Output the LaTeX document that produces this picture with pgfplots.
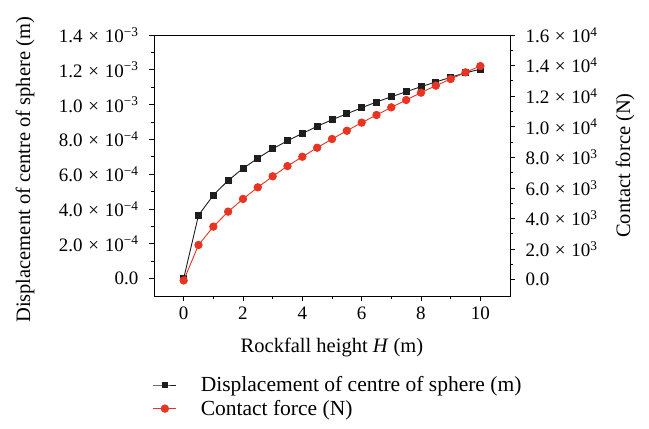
\documentclass[border=0pt]{standalone}
\usepackage{fontspec}
\setmainfont{Liberation Serif}
\usepackage{pgfplots}
\pgfplotsset{compat=1.18}
\definecolor{myred}{RGB}{232,52,34}
\definecolor{myblack}{RGB}{30,30,30}
\pgfplotstableread{
x y
0 0
0.5 3.64e-4
1 4.79e-4
1.5 5.64e-4
2 6.33e-4
2.5 6.92e-4
3 7.46e-4
3.5 7.92e-4
4 8.34e-4
4.5 8.75e-4
5 9.13e-4
5.5 9.47e-4
6 9.82e-4
6.5 1.015e-3
7 1.045e-3
7.5 1.074e-3
8 1.103e-3
8.5 1.130e-3
9 1.157e-3
9.5 1.183e-3
10 1.203e-3
}\disp
\pgfplotstableread{
x y
0 -50
0.5 2270
1 3470
1.5 4450
2 5280
2.5 6040
3 6760
3.5 7430
4 8040
4.5 8630
5 9200
5.5 9740
6 10270
6.5 10770
7 11270
7.5 11750
8 12230
8.5 12690
9 13120
9.5 13560
10 13970
}\force
\newcommand{\tm}{\hspace{0.3em}×\hspace{0.3em}}
\pgfplotsset{
  common/.style={
    at={(0pt,0pt)}, anchor=south west,
    width=356pt, height=261pt, scale only axis,
    xmin=-1, xmax=11,
    tick align=outside,
    major tick length=5pt, minor tick length=3pt,
    tick style={line width=0.8pt, black},
    tick label style={font=\fontsize{19}{22}\selectfont},
    label style={font=\fontsize{20.5}{24}\selectfont},
    axis line style={line width=0.8pt},
    scaled y ticks=false,
    /pgf/number format/assume math mode=true,
    legend image code/.code={\draw[mark repeat=2,mark phase=2] plot coordinates {(0pt,0pt) (11.5pt,0pt) (23pt,0pt)};},
  }
}
\begin{document}
\begin{tikzpicture}
\begin{axis}[common,
  ymin=-1e-4, ymax=1.4e-3,
  xtick={0,2,4,6,8,10}, minor xtick={1,3,5,7,9},
  xtick pos=lower, ytick pos=left,
  ytick={0,2e-4,4e-4,6e-4,8e-4,1e-3,1.2e-3,1.4e-3},
  minor ytick={1e-4,3e-4,5e-4,7e-4,9e-4,1.1e-3,1.3e-3},
  yticklabels={0.0, 2.0\tm10\textsuperscript{−4}, 4.0\tm10\textsuperscript{−4}, 6.0\tm10\textsuperscript{−4}, 8.0\tm10\textsuperscript{−4}, 1.0\tm10\textsuperscript{−3}, 1.2\tm10\textsuperscript{−3}, 1.4\tm10\textsuperscript{−3}},
  yticklabel style={xshift=-7pt},
  xticklabel style={yshift=-2pt},
  xlabel={Rockfall height \textit{H} (m)},
  ylabel={Displacement of centre of sphere (m)},
  xlabel style={at={(axis description cs:0.5,-0.199)}, anchor=center},
  ylabel style={at={(axis description cs:-0.362,0.483)}, anchor=center},
]
\addplot[myblack, line width=0.9pt, mark=square*, mark size=3pt, mark options={solid}] table[x=x,y=y] {\disp};
\end{axis}
\begin{axis}[common,
  ymin=-1066, ymax=16000,
  axis x line=none,
  axis y line*=right,
  ytick={0,2000,4000,6000,8000,10000,12000,14000,16000},
  minor ytick={1000,3000,5000,7000,9000,11000,13000,15000},
  yticklabels={0.0, 2.0\tm10\textsuperscript{3}, 4.0\tm10\textsuperscript{3}, 6.0\tm10\textsuperscript{3}, 8.0\tm10\textsuperscript{3}, 1.0\tm10\textsuperscript{4}, 1.2\tm10\textsuperscript{4}, 1.4\tm10\textsuperscript{4}, 1.6\tm10\textsuperscript{4}},
  yticklabel style={xshift=7pt},
  ylabel={Contact force (N)},
  ylabel style={at={(axis description cs:1.323,0.50)}, anchor=center},
  legend style={draw=none, fill=none, at={(axis description cs:-0.012,-0.293)}, anchor=north west, font=\fontsize{21.5}{24}\selectfont, row sep=3pt},
  legend cell align=left,
]
\addlegendimage{myblack, line width=0.9pt, mark=square*, mark size=2.5pt}
\addlegendentry{\hspace{22pt}Displacement of centre of sphere (m)}
\addplot[myred, line width=0.9pt, mark=*, mark size=3.7pt] table[x=x,y=y] {\force};
\addlegendentry{\hspace{22pt}Contact force (N)}
\end{axis}
\path[use as bounding box] (-154pt,-133pt) rectangle (495pt,296pt);
\end{tikzpicture}
\end{document}
